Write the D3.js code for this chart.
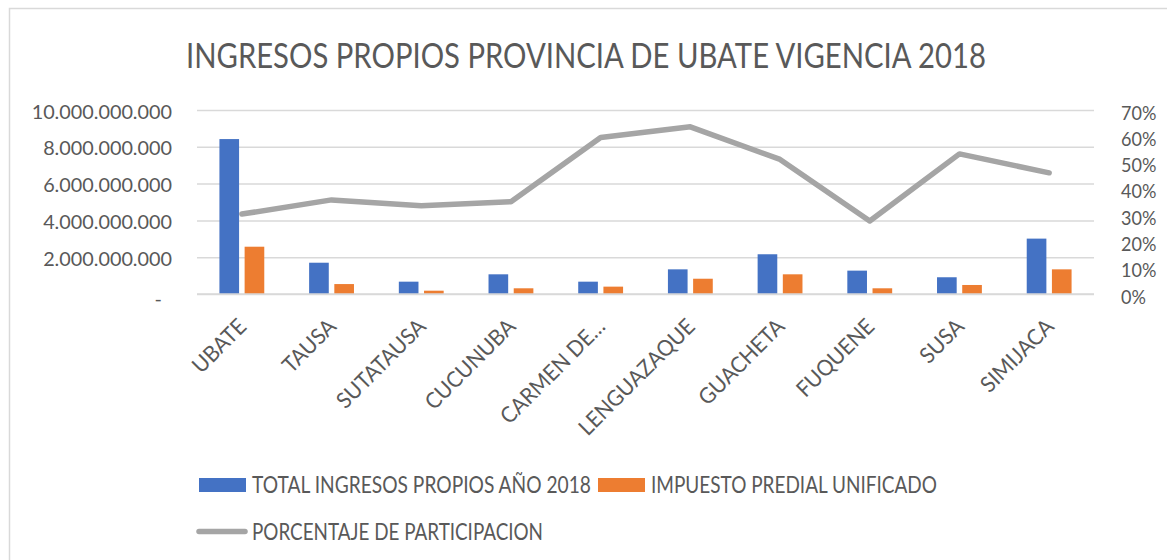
<!DOCTYPE html>
<html>
<head>
<meta charset="utf-8">
<script src="https://cdn.jsdelivr.net/npm/d3@7"></script>
<style>
  body { margin: 0; background: #fff; }
  text { font-family: Lato, "Open Sans", sans-serif; fill: #595959; }
</style>
</head>
<body>
<div id="chart"></div>
<script>
var width = 1167;
var height = 560;

// Data
var categories = ['UBATE', 'TAUSA', 'SUTATAUSA', 'CUCUNUBA', 'CARMEN DE CARUPA',
                  'LENGUAZAQUE', 'GUACHETA', 'FUQUENE', 'SUSA', 'SIMIJACA'];
var tickLabels = ['UBATE', 'TAUSA', 'SUTATAUSA', 'CUCUNUBA', 'CARMEN DE…',
                  'LENGUAZAQUE', 'GUACHETA', 'FUQUENE', 'SUSA', 'SIMIJACA'];
var totalIngresos = [8.42e9, 1.70e9, 0.67e9, 1.07e9, 0.67e9, 1.34e9, 2.16e9, 1.27e9, 0.91e9, 3.01e9];
var predial = [2.57e9, 0.54e9, 0.18e9, 0.31e9, 0.40e9, 0.83e9, 1.07e9, 0.31e9, 0.49e9, 1.34e9];
var porcentaje = [0.304, 0.358, 0.336, 0.351, 0.595, 0.636, 0.512, 0.278, 0.533, 0.461];
var seriesNames = ['TOTAL INGRESOS PROPIOS AÑO 2018', 'IMPUESTO PREDIAL UNIFICADO', 'PORCENTAJE DE PARTICIPACION'];
var leftTicks = [0, 2e9, 4e9, 6e9, 8e9, 10e9];
var rightTicks = [0, 0.1, 0.2, 0.3, 0.4, 0.5, 0.6, 0.7];
var title = 'INGRESOS PROPIOS PROVINCIA DE UBATE VIGENCIA 2018';

var colors = ['#4472c4', '#ed7d31', '#a5a5a5'];

var plot = {left: 197, right: 1094, top: 110, bottom: 294};

var svg = d3.select('#chart')
	.append('svg')
	.attr('width', width)
	.attr('height', height);

// chart border
svg.append('rect')
	.attr('x', 9.5).attr('y', 8.5)
	.attr('width', 1200).attr('height', 600)
	.attr('fill', 'none')
	.attr('stroke', '#d9d9d9')
	.attr('stroke-width', 1.5);

// squeeze text horizontally (the source picture is narrow)
function squeeze(sel, k){
	sel.each(function(){
		var w = this.getComputedTextLength();
		d3.select(this).attr('textLength', w * k).attr('lengthAdjust', 'spacingAndGlyphs');
	});
}
function fitTo(sel, w){
	sel.attr('textLength', w).attr('lengthAdjust', 'spacingAndGlyphs');
}

// Scales
var x0 = d3.scaleBand()
	.domain(categories)
	.range([plot.left, plot.right])
	.paddingInner(0.5)
	.paddingOuter(0.25);
var x1 = d3.scaleBand()
	.domain([0, 1])
	.range([0, x0.bandwidth()])
	.paddingInner(0.22);
var yLeft = d3.scaleLinear().domain([0, 10e9]).range([plot.bottom, plot.top]);
var yRight = d3.scaleLinear().domain([0, 0.7]).range([plot.bottom, plot.top]);

var locale = d3.formatLocale({decimal: ',', thousands: '.', grouping: [3], currency: ['', '']});
var fmtNum = locale.format(',.0f');

// Gridlines
svg.append('g')
	.attr('transform', 'translate(' + plot.left + ',0)')
	.call(d3.axisLeft(yLeft).tickValues(leftTicks).tickSize(-(plot.right - plot.left)).tickFormat(''))
	.call(function(g){ g.select('.domain').remove(); })
	.selectAll('line')
	.attr('stroke', '#d9d9d9')
	.attr('stroke-width', 1.5);

// Left axis
var leftAxis = svg.append('g')
	.attr('transform', 'translate(172,0)')
	.call(d3.axisLeft(yLeft).tickValues(leftTicks).tickSize(0)
		.tickFormat(function(d){ return d === 0 ? '-' : fmtNum(d); }));
leftAxis.select('.domain').remove();
leftAxis.selectAll('text')
	.attr('x', 0)
	.attr('dy', '0.4em')
	.style('font-size', '20px')
	.attr('fill', '#595959');
leftAxis.selectAll('.tick text').filter(function(d){ return d !== 0; })
	.call(squeeze, 0.99);
leftAxis.selectAll('.tick text').filter(function(d){ return d === 0; })
	.attr('x', -10).attr('dy', '0.55em');

// Right axis
var rightAxis = svg.append('g')
	.attr('transform', 'translate(1121,0)')
	.call(d3.axisRight(yRight).tickValues(rightTicks).tickSize(0).tickFormat(d3.format('.0%')));
rightAxis.select('.domain').remove();
rightAxis.selectAll('text')
	.attr('x', 0)
	.attr('dy', '0.45em')
	.style('font-size', '20px')
	.attr('fill', '#595959')
	.call(squeeze, 0.9);

// Bottom axis labels
var bottomAxis = svg.append('g')
	.attr('transform', 'translate(0,' + plot.bottom + ')')
	.call(d3.axisBottom(x0).tickSize(0).tickFormat(function(d, i){ return tickLabels[i]; }));
bottomAxis.select('.domain').remove();
bottomAxis.selectAll('text')
	.attr('y', 0).attr('dy', 0)
	.attr('text-anchor', 'end')
	.attr('transform', 'translate(6,34) rotate(-45)')
	.style('font-size', '22px')
	.attr('fill', '#595959')
	.call(squeeze, 0.95);

// Bars
var groups = svg.selectAll('g.cat')
	.data(categories)
	.enter()
	.append('g')
	.attr('class', 'cat')
	.attr('transform', function(d){ return 'translate(' + x0(d) + ',0)'; });

groups.selectAll('rect')
	.data(function(d, i){ return [totalIngresos[i], predial[i]]; })
	.enter()
	.append('rect')
	.attr('x', function(d, j){ return x1(j); })
	.attr('width', x1.bandwidth())
	.attr('y', function(d){ return yLeft(d); })
	.attr('height', function(d){ return plot.bottom - yLeft(d); })
	.attr('fill', function(d, j){ return colors[j]; });

// baseline
svg.append('line')
	.attr('x1', plot.left).attr('x2', plot.right)
	.attr('y1', plot.bottom).attr('y2', plot.bottom)
	.attr('stroke', '#d9d9d9')
	.attr('stroke-width', 1.5);

// Line on secondary axis
var line = d3.line()
	.x(function(d, i){ return x0(categories[i]) + x0.bandwidth() / 2; })
	.y(function(d){ return yRight(d); });

svg.append('path')
	.datum(porcentaje)
	.attr('d', line)
	.attr('fill', 'none')
	.attr('stroke', colors[2])
	.attr('stroke-width', 5.5)
	.attr('stroke-linejoin', 'round')
	.attr('stroke-linecap', 'round');

// Title
svg.append('text')
	.attr('x', 186)
	.attr('y', 68)
	.style('font-size', '34px')
	.attr('fill', '#5f5f5f')
	.text(title)
	.call(fitTo, 800);

// Legend
var legend = svg.append('g');
legend.append('rect').attr('x', 199).attr('y', 478).attr('width', 47).attr('height', 14).attr('fill', colors[0]);
legend.append('text').attr('x', 252).attr('y', 493).style('font-size', '23px').text(seriesNames[0]).call(fitTo, 339);
legend.append('rect').attr('x', 598).attr('y', 478).attr('width', 47).attr('height', 14).attr('fill', colors[1]);
legend.append('text').attr('x', 651).attr('y', 493).style('font-size', '23px').text(seriesNames[1]).call(fitTo, 286);
legend.append('line').attr('x1', 199).attr('x2', 245).attr('y1', 531.5).attr('y2', 531.5)
	.attr('stroke', colors[2]).attr('stroke-width', 5.5).attr('stroke-linecap', 'round');
legend.append('text').attr('x', 252).attr('y', 540).style('font-size', '23px').text(seriesNames[2]).call(fitTo, 291);
</script>
</body>
</html>
